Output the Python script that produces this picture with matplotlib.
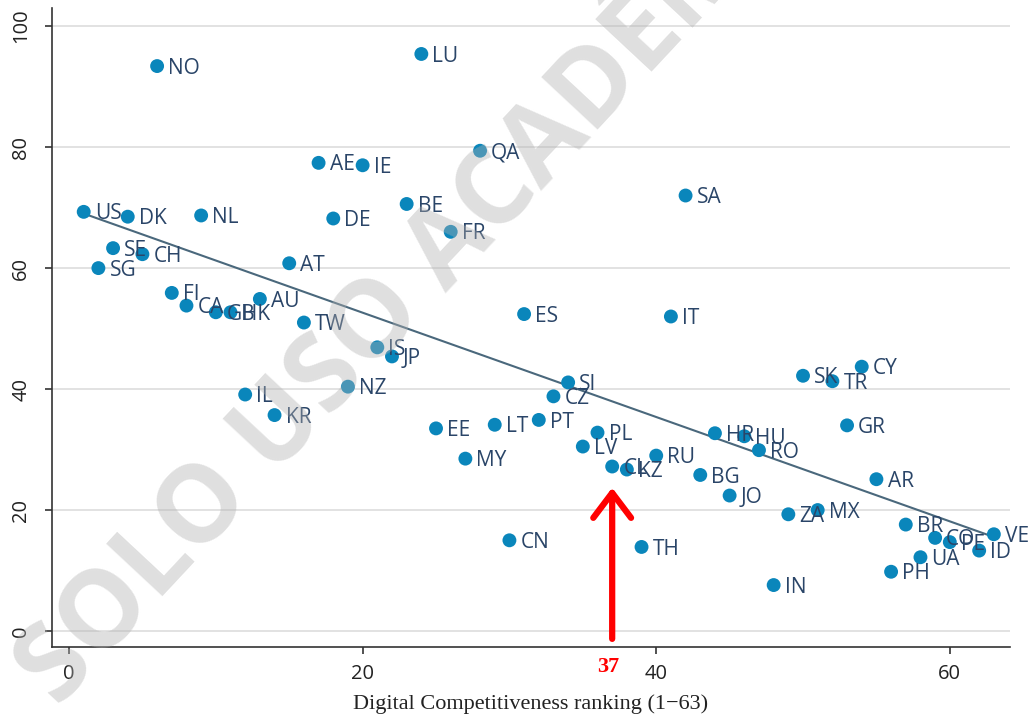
import matplotlib.pyplot as plt
import numpy as np

# Country codes, digital competitiveness rank (x) and score (y)
countries = ['US', 'SG', 'SE', 'DK', 'CH', 'NO', 'FI', 'CA', 'NL', 'GB',
             'HK', 'IL', 'AU', 'KR', 'AT', 'TW', 'AE', 'DE', 'NZ', 'IE',
             'IS', 'JP', 'BE', 'LU', 'EE', 'FR', 'MY', 'QA', 'LT', 'CN',
             'ES', 'PT', 'CZ', 'SI', 'LV', 'PL', 'CL', 'KZ', 'TH', 'RU',
             'IT', 'SA', 'BG', 'HR', 'JO', 'HU', 'RO', 'IN', 'ZA', 'SK',
             'MX', 'TR', 'GR', 'CY', 'AR', 'PH', 'BR', 'UA', 'CO', 'PE',
             'ID', 'VE']
rank = [1, 2, 3, 4, 5, 6, 7, 8, 9, 10,
        11, 12, 13, 14, 15, 16, 17, 18, 19, 20,
        21, 22, 23, 24, 25, 26, 27, 28, 29, 30,
        31, 32, 33, 34, 35, 36, 37, 38, 39, 40,
        41, 42, 43, 44, 45, 46, 47, 48, 49, 50,
        51, 52, 53, 54, 55, 56, 57, 58, 59, 60,
        62, 63]
score = [69.3, 60.0, 63.3, 68.5, 62.3, 93.4, 55.9, 53.8, 68.7, 52.7,
         52.7, 39.1, 54.9, 35.7, 60.8, 51.0, 77.4, 68.2, 40.4, 77.0,
         46.9, 45.4, 70.6, 95.4, 33.5, 66.0, 28.5, 79.4, 34.1, 15.0,
         52.4, 34.9, 38.8, 41.1, 30.5, 32.8, 27.2, 26.7, 13.9, 29.0,
         52.0, 72.0, 25.8, 32.7, 22.4, 32.2, 29.9, 7.6, 19.3, 42.2,
         20.0, 41.3, 34.0, 43.7, 25.1, 9.8, 17.6, 12.2, 15.4, 14.7,
         13.3, 16.0]
highlight_rank = 37

dot_color = '#0a86bb'
label_color = '#2a4568'
fit_color = '#4a687c'

fig = plt.figure(figsize=(10.31, 7.17), dpi=100)
ax = fig.add_axes([52 / 1031, 70 / 717, 958 / 1031, 639 / 717])

ax.set_xlim(-1.16, 64.1)
ax.set_ylim(-2.64, 103.0)

ax.set_yticks([0, 20, 40, 60, 80, 100])
ax.set_xticks([0, 20, 40, 60])
ax.grid(axis='y', color='#dddddd', lw=1.2, zorder=0)
ax.set_axisbelow(True)

for side in ['top', 'right']:
    ax.spines[side].set_visible(False)
for side in ['left', 'bottom']:
    ax.spines[side].set_color('#333333')
    ax.spines[side].set_linewidth(1.2)

ax.tick_params(axis='both', direction='out', length=5, width=1.2,
               color='#333333', labelcolor='#222222')
ax.tick_params(axis='x', labelsize=14.5, pad=7)
ax.tick_params(axis='y', labelsize=14.5, pad=10, labelrotation=90)
for lab in ax.get_yticklabels():
    lab.set_va('center')
    lab.set_family('Open Sans')
for lab in ax.get_xticklabels():
    lab.set_family('Open Sans')

# linear fit over the ranked countries
x = np.array(rank, dtype=float)
y = np.array(score, dtype=float)
slope, intercept = np.polyfit(x, y, 1)
xs = np.array([x.min(), x.max()])
ax.plot(xs, intercept + slope * xs, color=fit_color, lw=1.5, zorder=3)

ax.scatter(x, y, s=100, color=dot_color, edgecolors='none', zorder=4)
for c, xi, yi in zip(countries, x, y):
    ax.annotate(c, (xi, yi), xytext=(8, -1.5), textcoords='offset points',
                va='center', ha='left', fontsize=15, color=label_color,
                family='Open Sans', zorder=5)

ax.set_xlabel('Digital Competitiveness ranking (1\u221263)', family='Liberation Serif',
              fontsize=16, color='#222222', va='top')
ax.xaxis.set_label_coords(0.5, -0.074)

# arrow pointing at the highlighted rank
idx = rank.index(highlight_rank)
ax.annotate('', xy=(highlight_rank, score[idx] - 3.5), xytext=(highlight_rank, -1.3),
            arrowprops=dict(arrowstyle='->, head_length=0.9, head_width=0.68',
                            color='red', lw=4.5, mutation_scale=20,
                            shrinkA=0, shrinkB=0),
            zorder=6)
ax.annotate(str(highlight_rank), xy=(highlight_rank, 0), xycoords=ax.get_xaxis_transform(),
            xytext=(-3, -14.5), textcoords='offset points', ha='center', va='center',
            fontsize=16, fontweight='bold', color='red', family='Liberation Serif',
            annotation_clip=False)

fig.text(38 / 1031, 28 / 717, 'SOLO USO ACADÉMICO', rotation=47, rotation_mode='anchor',
         ha='left', va='center', fontsize=77, fontweight='bold', family='Open Sans',
         color='#b0b0b0', alpha=0.4, zorder=10)

fig.savefig('out.png', dpi=100)
